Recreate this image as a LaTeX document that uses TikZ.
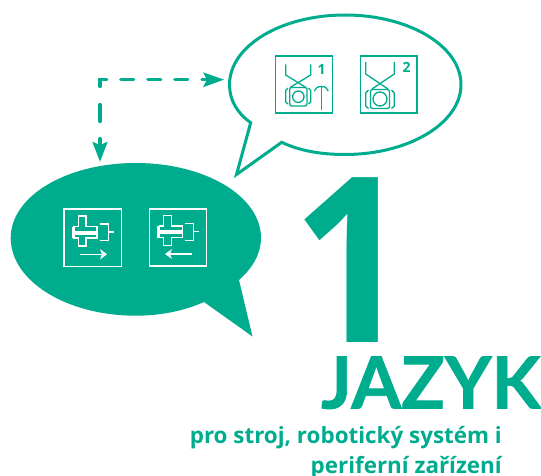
\documentclass[tikz,border=0pt]{standalone}
\usepackage{fontspec}
\setmainfont{Open Sans}
\newfontfamily\titlefont[FakeBold=1]{Lato}
\definecolor{teal1}{HTML}{00AC8E}
\tikzset{
 x=1pt,y=-1pt,
 icongreen/.style={draw=teal1,line width=1.3pt,fill=none},
 iconwhite/.style={draw=white,line width=1.4pt,fill=none},
 flow/.style={draw=teal1,line width=3.2pt,line cap=round},
}
\newcommand{\cyl}[1]{%
 \begin{scope}[shift={(#1)}]
  \draw[iconwhite] (-10.7,-16) -- (-3,-16) -- (-3,-5.5) -- (8,-5.5) -- (8,6) -- (-3,6) -- (-3,14) -- (-10.7,14) -- (-10.7,6) -- (-15,6) -- (-15,-5.5) -- (-10.7,-5.5) -- cycle;
  \fill[white] (-17,-1.5) -- (8,-1.5) -- (8,2.5) -- (-17,2.5) -- cycle;
  \draw[iconwhite,line width=1.6pt] (-16.5,-5.5) -- (-16.5,6);
  \draw[iconwhite] (11,-8) -- (19.3,-8) -- (19.3,8.7) -- (11,8.7);
  \draw[iconwhite] (19.3,0) -- (24.5,0);
 \end{scope}}
\begin{document}
\begin{tikzpicture}
\useasboundingbox (0,0) rectangle (541,476);
% upper bubble
\draw[teal1,line width=3pt,fill=white,miter limit=10] (250.7,122.7)
  .. controls (237,113) and (229.5,100) .. (229.5,84.7)
  .. controls (229.5,46) and (281,15) .. (345,15)
  .. controls (409,15) and (461,46) .. (461,84.7)
  .. controls (461,123) and (409,154.5) .. (345,154.5)
  .. controls (320,154.5) and (299,150.5) .. (281.7,142.3)
  -- (236.5,174.5) -- cycle;
% lower bubble
\path[fill=teal1] (239,280)
  .. controls (252.5,268) and (261,254) .. (261,238)
  .. controls (261,196) and (205,163) .. (135.8,163)
  .. controls (66.6,163) and (10.7,196) .. (10.7,238)
  .. controls (10.7,281) and (66.6,315.7) .. (135.8,315.7)
  .. controls (160,315.7) and (184,311) .. (204,302)
  -- (252.5,336.5) -- cycle;
\coordinate (C) at (100,79.6);
\draw[flow] (106.8,79.6) -- (C) -- (100,86.5)
  (120.8,79.6) -- (133.8,79.6) (147.8,79.6) -- (160.8,79.6) (174.8,79.6) -- (187.8,79.6) (202,79.6) -- (207,79.6)
  (100,104.5) -- (100,121.5) (100,138.5) -- (100,146);
\fill[teal1] (224,79.6) -- (203,72.3) -- (207,79.6) -- (203,87.3) -- cycle;
\fill[teal1] (100,161.7) -- (92.3,141.7) -- (100,145) -- (107.7,141.7) -- cycle;
% icons upper
\draw[icongreen] (275.7,56) rectangle (332.3,113);
\draw[icongreen] (285.7,64.3) -- (285.7,75) -- (306,87.5);
\draw[icongreen] (310.7,64.3) -- (310.7,75) -- (290,87.5);
\draw[icongreen] (288,88) -- (285.7,90.5) -- (285.7,102) -- (288,104);
\draw[icongreen] (308.5,88) -- (310.7,90.5) -- (310.7,102) -- (308.5,104);
\draw[icongreen,rounded corners=2pt] (289.7,87.5) rectangle (307,106);
\draw[icongreen] (298.3,96.7) circle (5.7);
\draw[icongreen] (321.3,110) -- (321.3,86.5);
\draw[icongreen] (314.3,91) .. controls (315,88) and (318,86.5) .. (321.3,86.5) .. controls (325,86.5) and (327.5,88) .. (328.3,91);
\node[font=\bfseries\fontsize{14}{14}\selectfont,text=teal1,inner sep=0pt] (n1) at (321.7,70) {1};
\draw[icongreen] (360.5,56) rectangle (417,113);
\draw[icongreen] (365.7,62) -- (365.7,74) -- (388,89);
\draw[icongreen] (394.3,62) -- (394.3,74) -- (372,89);
\draw[icongreen] (368.5,90) -- (365.7,93) -- (365.7,106) -- (368.5,108.5);
\draw[icongreen] (391.5,90) -- (394.3,93) -- (394.3,106) -- (391.5,108.5);
\draw[icongreen,rounded corners=2pt] (370.5,89.5) rectangle (389.5,108.5);
\draw[icongreen] (380,99) circle (7);
\node[font=\bfseries\fontsize{14}{14}\selectfont,text=teal1,inner sep=0pt] (n2) at (406.7,67.3) {2};
% icons lower
\draw[iconwhite] (64,209) rectangle (121.7,266.7);
\cyl{89,232}
\draw[iconwhite] (80,254.3) -- (103,254.3);
\fill[white] (100,249) -- (107,254.3) -- (100,259.5) -- (102,254.3) -- cycle;
\draw[iconwhite] (149.3,209) rectangle (206.7,266);
\cyl{174.3,231.5}
\draw[iconwhite] (169,254) -- (192,254);
\fill[white] (172,249) -- (165,254) -- (172,259) -- (170,254) -- cycle;
% text
\node[anchor=base east,inner sep=0pt,text=teal1,font=\bfseries\fontsize{231}{231}\selectfont] (one) at (411.4,342) {\scalebox{.9}[1]{1}};
\node[anchor=base east,inner sep=0pt,text=teal1,font=\titlefont\bfseries\fontsize{72}{72}\selectfont] (jazyk) at (541,408.5) {JAZYK};
\node[anchor=base east,inner sep=0pt,text=teal1,font=\bfseries\fontsize{22.4}{22.4}\selectfont] (l1) at (502,443) {pro stroj, robotický systém i};
\node[anchor=base east,inner sep=0pt,text=teal1,font=\bfseries\fontsize{22.4}{22.4}\selectfont] (l2) at (502,473) {periferní zařízení};
\end{tikzpicture}
\end{document}
